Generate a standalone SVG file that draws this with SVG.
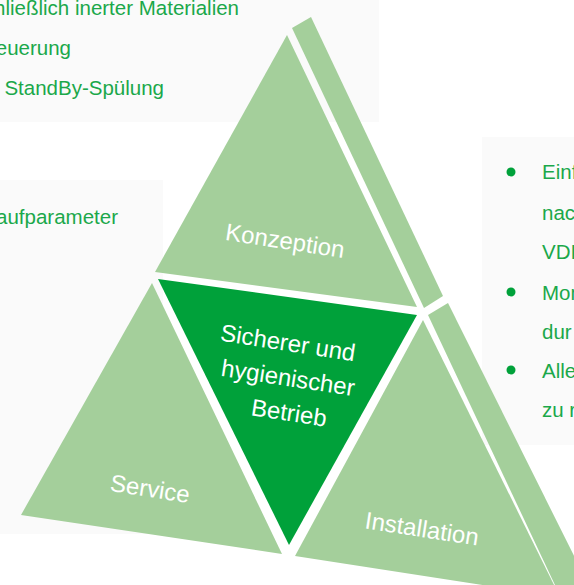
<svg xmlns="http://www.w3.org/2000/svg" width="574" height="585" viewBox="0 0 574 585">
<style>
.box{fill:#fafafa}
.lt{fill:#a4cf9b}
.dk{fill:#00a13a}
.gt{font-family:"Liberation Sans",Arial,sans-serif;font-size:20.5px;fill:#1ba84a}
.wl{font-family:"Liberation Sans",Arial,sans-serif;font-size:24px;fill:#ffffff;text-anchor:middle}
.bul{fill:#00a13a}
</style>
<rect width="574" height="585" fill="#ffffff"/>
<g id="box-top-left">
<rect class="box" x="0" y="0" width="379" height="122"/>
<text class="gt" x="239" y="15" text-anchor="end">hließlich inerter Materialien</text>
<text class="gt" x="71" y="55" text-anchor="end">euerung</text>
<text class="gt" x="164" y="95" text-anchor="end">StandBy-Spülung</text>
</g>
<g id="box-left">
<rect class="box" x="0" y="180" width="163" height="354"/>
<text class="gt" x="118" y="224" text-anchor="end">aufparameter</text>
</g>
<g id="box-right">
<rect class="box" x="482" y="137" width="92" height="308"/>
<circle class="bul" cx="511" cy="172" r="4.5"/>
<circle class="bul" cx="511" cy="292" r="4.5"/>
<circle class="bul" cx="511" cy="370" r="4.5"/>
<text class="gt" x="542" y="179">Einf</text>
<text class="gt" x="542" y="220">nac</text>
<text class="gt" x="542" y="259">VDI</text>
<text class="gt" x="542" y="300">Mon</text>
<text class="gt" x="542" y="339">dur</text>
<text class="gt" x="542" y="378">Alle</text>
<text class="gt" x="542" y="417">zu r</text>
</g>
<g id="strip-konzeption">
<polygon class="lt" points="292,28 311,17 443,296 424,308"/>
</g>
<g id="strip-installation">
<polygon class="lt" points="428,315 448,303 596,600 562,600"/>
</g>
<g id="konzeption">
<polygon class="lt" points="287,35 155,272 417,307"/>
<text class="wl" x="285" y="249" transform="rotate(8.7 285 241)">Konzeption</text>
</g>
<g id="betrieb">
<polygon class="dk" points="158,279 417,315 289,545"/>
<text class="wl" x="288" y="351" transform="rotate(8.7 288 343)">Sicherer und</text>
<text class="wl" x="288" y="386" transform="rotate(8.7 288 378)">hygienischer</text>
<text class="wl" x="289" y="421" transform="rotate(8.7 289 413)">Betrieb</text>
</g>
<g id="service">
<polygon class="lt" points="152,283 21,515 282,554"/>
<text class="wl" x="150" y="497" transform="rotate(8.7 150 489)">Service</text>
</g>
<g id="installation">
<polygon class="lt" points="423,320 295,556 560,597"/>
<text class="wl" x="422" y="537" transform="rotate(8.7 422 529)">Installation</text>
</g>
<g id="connectors"/>
</svg>
